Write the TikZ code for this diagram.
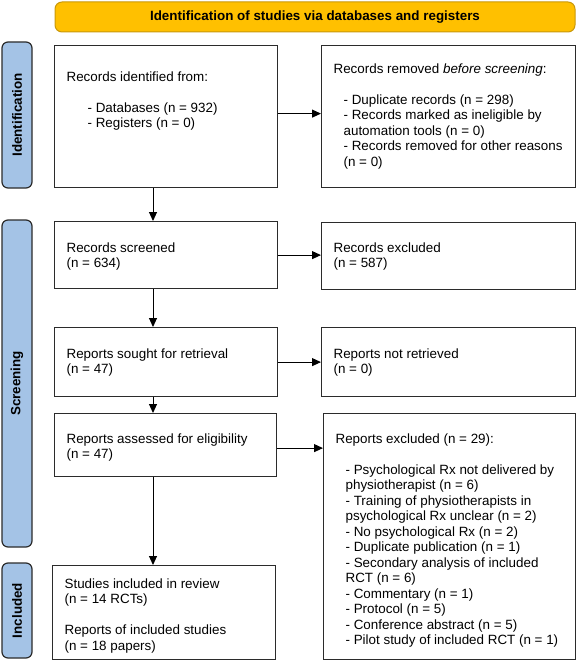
\documentclass[tikz,border=0pt]{standalone}
\usepackage{fontspec}
\setmainfont{Liberation Sans}
\usetikzlibrary{arrows.meta}
\definecolor{hdryellow}{HTML}{FFC000}
\definecolor{hdredge}{HTML}{C9980A}
\definecolor{sideblue}{HTML}{A4C3E6}
\definecolor{boxedge}{HTML}{2B2B2B}
\newcommand{\pfont}{\fontsize{13.4}{15.5}\selectfont}
% box text: width, height, top gap, contents
\newcommand{\pbody}[4]{\begin{minipage}[t][#2pt][t]{#1pt}\raggedright\leftskip=12pt\relax\vspace*{#3pt}#4\end{minipage}}
\begin{document}
\begin{tikzpicture}[x=1pt, y=-1pt,
  pbox/.style={draw=boxedge, line width=1.2pt, anchor=north west, inner sep=0pt, font=\pfont},
  side/.style={draw=boxedge, fill=sideblue, line width=1.2pt, rounded corners=6pt, rotate=90, minimum height=30pt, inner sep=0pt, font=\pfont\bfseries},
  hdr/.style={draw=hdredge, fill=hdryellow, line width=1pt, rounded corners=7pt, minimum width=520pt, minimum height=30pt, inner sep=0pt, font=\pfont\bfseries},
  arr/.style={-{Triangle[length=9pt,width=8pt]}, line width=1pt}]

\useasboundingbox (0,0) rectangle (578,661);

\node [hdr] (h) at (315,17) {Identification of studies via databases and registers};

\node [side, minimum width=146pt] (s1) at (17,115) {Identification};
\node [side, minimum width=327pt] (s2) at (17,383.5) {Screening};
\node [side, minimum width=95pt] (s3) at (17,610.5) {Included};

\node [pbox] (b1) at (54,45) {\pbody{223}{142}{26}{Records identified from:\par\vspace{15.5pt}
  {\leftskip=33pt - Databases (n = 932)\\- Registers (n = 0)\par}}};
\node [pbox] (b2) at (321,45) {\pbody{254}{142}{18}{Records removed \textit{before screening}:\par\vspace{15.5pt}
  {\leftskip=22pt - Duplicate records (n = 298)\\- Records marked as ineligible by\\automation tools (n = 0)\\- Records removed for other reasons\\(n = 0)\par}}};
\node [pbox] (b3) at (54,221) {\pbody{223}{67}{21}{Records screened\\(n = 634)}};
\node [pbox] (b4) at (321,222) {\pbody{254}{67}{20}{Records excluded\\(n = 587)}};
\node [pbox] (b5) at (54,327) {\pbody{223}{69}{21}{Reports sought for retrieval\\(n = 47)}};
\node [pbox] (b6) at (321,327) {\pbody{254}{69}{21}{Reports not retrieved\\(n = 0)}};
\node [pbox] (b7) at (54,413) {\pbody{222}{63}{20}{Reports assessed for eligibility\\(n = 47)}};
\node [pbox] (b8) at (323,413) {\pbody{252}{246}{20}{Reports excluded (n = 29):\par\vspace{15.5pt}
  {\leftskip=22pt - Psychological Rx not delivered by\\physiotherapist (n = 6)\\- Training of physiotherapists in\\psychological Rx unclear (n = 2)\\- No psychological Rx (n = 2)\\- Duplicate publication (n = 1)\\- Secondary analysis of included\\RCT (n = 6)\\- Commentary (n = 1)\\- Protocol (n = 5)\\- Conference abstract (n = 5)\\- Pilot study of included RCT (n = 1)\par}}};
\node [pbox] (b9) at (52,565) {\pbody{223}{94}{13}{Studies included in review\\(n = 14 RCTs)\par\vspace{15.5pt}
  Reports of included studies\\(n = 18 papers)}};

\coordinate (c) at (153,0);
\draw [arr] (b1.south -| c) -- (b3.north -| c);
\draw [arr] (b3.south -| c) -- (b5.north -| c);
\draw [arr] (b5.south -| c) -- (b7.north -| c);
\draw [arr] (b7.south -| c) -- (b9.north -| c);
\draw [arr] ([yshift=3pt]b1.east) -- ([yshift=3pt]b1.east -| b2.west);
\draw [arr] (b3.east) -- (b3.east -| b4.west);
\draw [arr] (b5.east) -- (b5.east -| b6.west);
\draw [arr] ([yshift=-3pt]b7.east) -- ([yshift=-3pt]b7.east -| b8.west);
\end{tikzpicture}
\end{document}
